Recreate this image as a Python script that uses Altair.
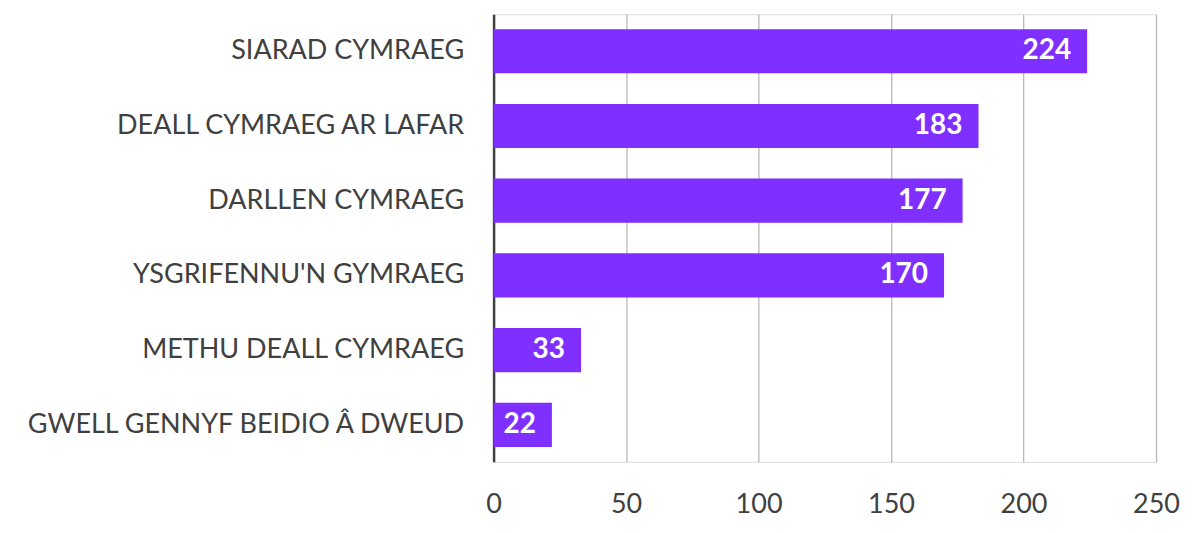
import altair as alt
import pandas as pd

categories = ["SIARAD CYMRAEG", "DEALL CYMRAEG AR LAFAR", "DARLLEN CYMRAEG",
              "YSGRIFENNU'N GYMRAEG", "METHU DEALL CYMRAEG", "GWELL GENNYF BEIDIO Â DWEUD"]
values = [224, 183, 177, 170, 33, 22]
x_ticks = [0, 50, 100, 150, 200, 250]

df = pd.DataFrame({"cat": categories, "val": values})

FONT = "Lato"
base = alt.Chart(df).encode(
    y=alt.Y("cat:N", sort=categories, title=None,
            scale=alt.Scale(paddingInner=0.41, paddingOuter=0.2),
            axis=alt.Axis(domain=True, domainColor="#404040", domainWidth=2.5,
                          ticks=False, grid=False, labelPadding=30,
                          labelFont=FONT, labelFontSize=27, labelColor="#404040",
                          labelLimit=600)),
)

bars = base.mark_bar(color="#7F2FFF").encode(
    x=alt.X("val:Q", title=None, scale=alt.Scale(domain=[0, 250], nice=False),
            axis=alt.Axis(values=x_ticks, domain=False, ticks=False, grid=True,
                          gridColor="#b8b8b8", gridWidth=1.3, labelPadding=30,
                          labelFlush=False,
                          labelFont=FONT, labelFontSize=27, labelColor="#404040"))
)

labels = base.mark_text(align="right", baseline="middle", dx=-16, color="white",
                        font=FONT, fontSize=28, fontWeight="bold").encode(
    x="val:Q", text="val:Q"
)

chart = (bars + labels).properties(
    width=663, height=448,
    autosize=alt.AutoSizeParams(type="none"),
    padding={"left": 486, "top": 6, "right": 40, "bottom": 70},
).configure_view(stroke=None).configure(background="white")

chart.save("out.html", embed_options={"renderer": "svg", "actions": False})
